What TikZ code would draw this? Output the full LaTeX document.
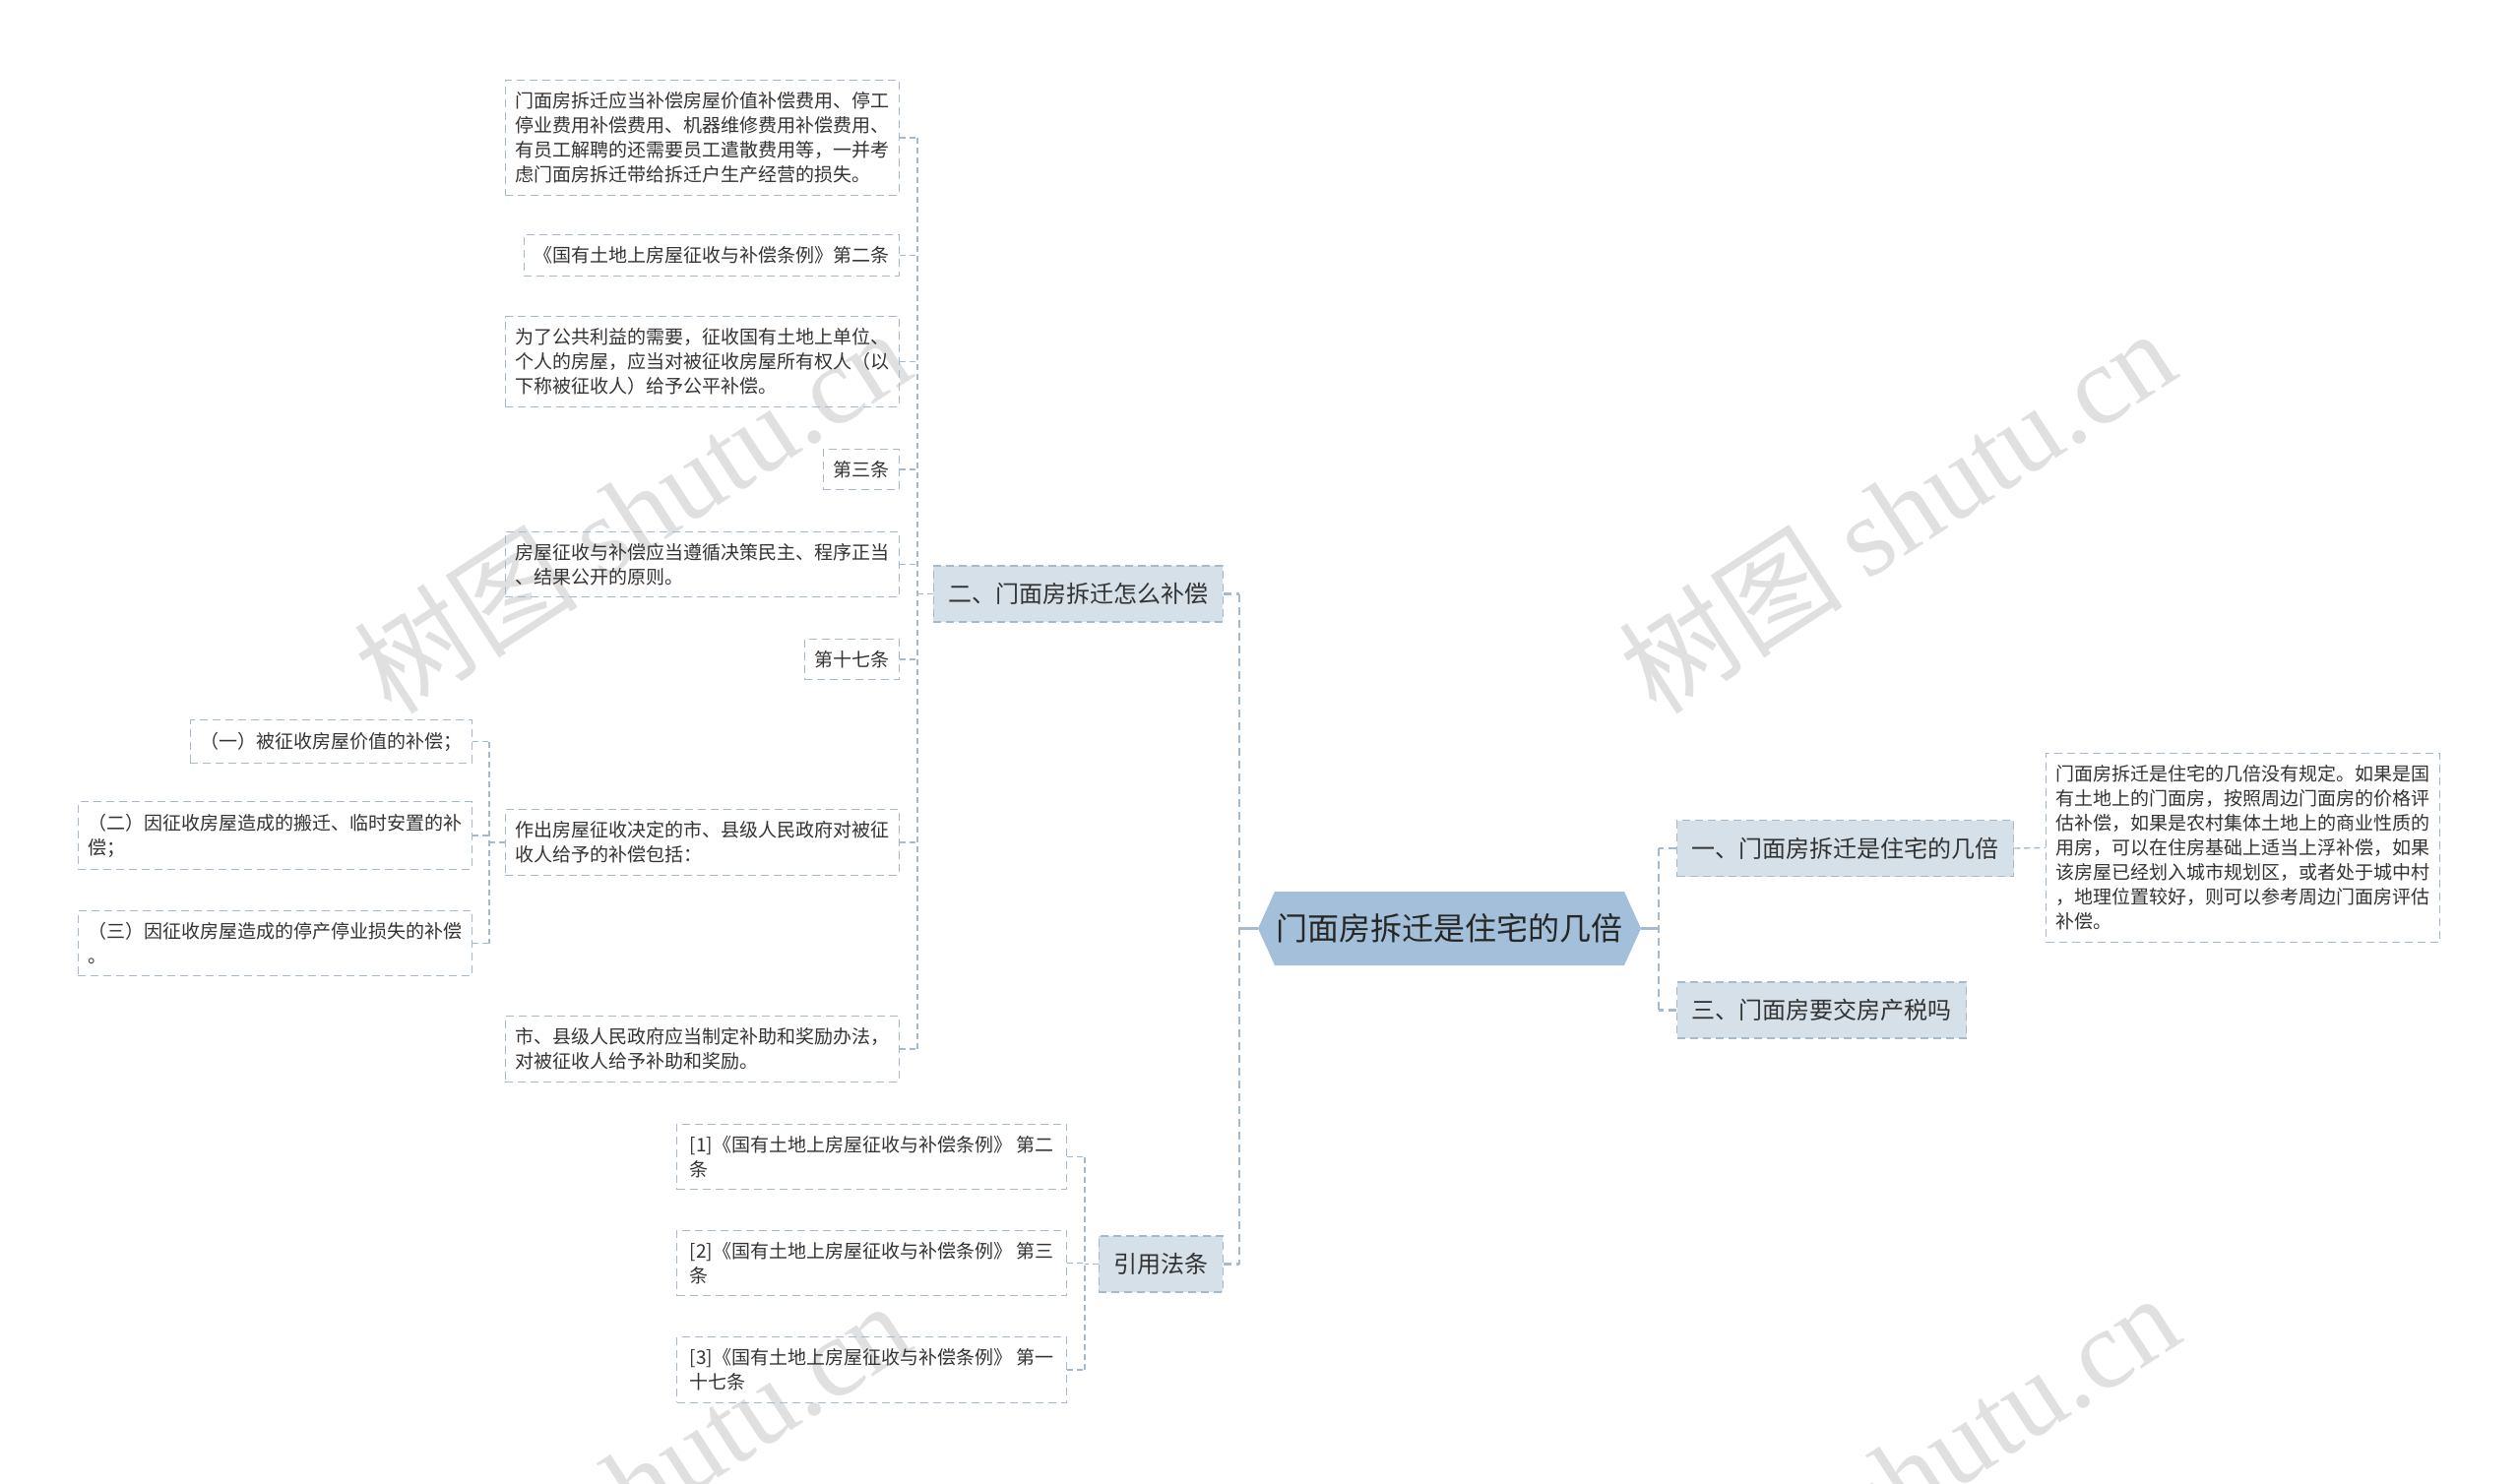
\documentclass[tikz,border=0pt]{standalone}
\usepackage{fontspec}
\setmainfont{Noto Sans CJK SC}
\newfontfamily\wmfont{Liberation Serif}
\usepackage{tikz}
\usetikzlibrary{positioning,calc}

\definecolor{linec}{HTML}{A5BACB}
\definecolor{boxfill}{HTML}{D5E0E9}
\definecolor{rootfill}{HTML}{A3BFD9}
\definecolor{txt}{HTML}{333333}
\definecolor{wm}{HTML}{E0E0E0}

\begin{document}
\begin{tikzpicture}[x=0.5pt, y=-0.5pt,
    leaf/.style={draw=linec, dash pattern=on 4pt off 2.5pt, line width=0.6pt, text=txt, align=left,
        inner xsep=5pt, inner ysep=6pt, font=\fontsize{9.5pt}{12.5pt}\selectfont},
    branch/.style={draw=linec, dash pattern=on 4pt off 2.5pt, line width=0.7pt, fill=boxfill, text=txt,
        minimum height=28.5pt, inner xsep=7.5pt, font=\fontsize{12pt}{14pt}\selectfont},
    link/.style={draw=linec, dash pattern=on 3pt off 2pt, line width=0.7pt},
    trunk/.style={draw=linec, dash pattern=on 4pt off 2.5pt, line width=1.2pt},
    wmark/.style={text=wm, rotate=33, font=\fontsize{57pt}{57pt}\selectfont}]
    \useasboundingbox (0,0) rectangle (2560,1508);

    % watermarks
    \node[wmark] (wm1) at (642, 519) {树图 \wmfont shutu.cn};
    \node[wmark] (wm2) at (1927, 519) {树图 \wmfont shutu.cn};
    \node[wmark] (wm3) at (642, 1507) {树图 \wmfont shutu.cn};
    \node[wmark] (wm4) at (1931, 1499) {树图 \wmfont shutu.cn};

    % root
    \node[minimum width=194.5pt, minimum height=37.5pt, inner sep=0pt, text=black!85,
        font=\fontsize{16pt}{18pt}\selectfont,
        path picture={\fill[rootfill] (path picture bounding box.west)
            -- ([xshift=8.5pt]path picture bounding box.north west)
            -- ([xshift=-8.5pt]path picture bounding box.north east)
            -- (path picture bounding box.east)
            -- ([xshift=-8.5pt]path picture bounding box.south east)
            -- ([xshift=8.5pt]path picture bounding box.south west) -- cycle;}]
        (root) at (1472.5, 943.5) {门面房拆迁是住宅的几倍};

    % main branches
    \node[branch, anchor=east] (b2) at (1243, 603.5) {二、门面房拆迁怎么补偿};
    \node[branch, anchor=east] (cite) at (1243, 1284.5) {引用法条};
    \node[branch, anchor=west] (b1) at (1703, 862) {一、门面房拆迁是住宅的几倍};
    \node[branch, anchor=west] (b3) at (1703, 1026.5) {三、门面房要交房产税吗};

    % right detail
    \node[leaf, anchor=west] (det) at (2078, 861.5) {门面房拆迁是住宅的几倍没有规定。如果是国\\
        有土地上的门面房，按照周边门面房的价格评\\
        估补偿，如果是农村集体土地上的商业性质的\\
        用房，可以在住房基础上适当上浮补偿，如果\\
        该房屋已经划入城市规划区，或者处于城中村\\
        ，地理位置较好，则可以参考周边门面房评估\\
        补偿。};

    % children of b2
    \node[leaf, anchor=east] (c1) at (914, 140) {门面房拆迁应当补偿房屋价值补偿费用、停工\\
        停业费用补偿费用、机器维修费用补偿费用、\\
        有员工解聘的还需要员工遣散费用等，一并考\\
        虑门面房拆迁带给拆迁户生产经营的损失。};
    \node[leaf, anchor=east] (c2) at (914, 259.5) {《国有土地上房屋征收与补偿条例》第二条};
    \node[leaf, anchor=east] (c3) at (914, 367.5) {为了公共利益的需要，征收国有土地上单位、\\
        个人的房屋，应当对被征收房屋所有权人（以\\
        下称被征收人）给予公平补偿。};
    \node[leaf, anchor=east] (c4) at (914, 477) {第三条};
    \node[leaf, anchor=east] (c5) at (914, 573.5) {房屋征收与补偿应当遵循决策民主、程序正当\\
        、结果公开的原则。};
    \node[leaf, anchor=east] (c6) at (914, 670) {第十七条};
    \node[leaf, anchor=east] (c7) at (914, 856) {作出房屋征收决定的市、县级人民政府对被征\\
        收人给予的补偿包括：};
    \node[leaf, anchor=east] (c8) at (914, 1066) {市、县级人民政府应当制定补助和奖励办法，\\
        对被征收人给予补助和奖励。};

    % children of c7
    \node[leaf, anchor=east] (g1) at (480, 753.5) {（一）被征收房屋价值的补偿；};
    \node[leaf, anchor=east] (g2) at (480, 849) {（二）因征收房屋造成的搬迁、临时安置的补\\
        偿；};
    \node[leaf, anchor=east] (g3) at (480, 958.5) {（三）因征收房屋造成的停产停业损失的补偿\\
        。};

    % cited articles
    \node[leaf, anchor=east, inner xsep=6.5pt] (r1) at (1084, 1175.5) {[1]《国有土地上房屋征收与补偿条例》 第二\\条};
    \node[leaf, anchor=east, inner xsep=6.5pt] (r2) at (1084, 1283.5) {[2]《国有土地上房屋征收与补偿条例》 第三\\条};
    \node[leaf, anchor=east, inner xsep=6.5pt] (r3) at (1084, 1392) {[3]《国有土地上房屋征收与补偿条例》 第一\\十七条};

    % trunk positions
    \coordinate (tl) at (1259, 0);
    \coordinate (tr) at (1685, 0);
    \coordinate (t2) at (932, 0);
    \coordinate (tg) at (497, 0);
    \coordinate (tc) at (1102, 0);

    % root connectors
    \draw[linec, line width=1.5pt] (root.west) -- (root.west -| tl);
    \draw[linec, line width=1.5pt] (root.east) -- (root.east -| tr);
    \draw[trunk] (b2.east -| tl) -- (cite.east -| tl);
    \draw[trunk] (b2.east) -- (b2.east -| tl);
    \draw[trunk] (cite.east) -- (cite.east -| tl);
    \draw[trunk] (b1.west -| tr) -- (b3.west -| tr);
    \draw[trunk] (b1.west) -- (b1.west -| tr);
    \draw[trunk] (b3.west) -- (b3.west -| tr);
    \draw[link] (b1.east) -- (det.west);

    % b2 subtree
    \draw[link] (c1.east -| t2) -- (c8.east -| t2);
    \draw[link] (b2.west) -- (b2.west -| t2);
    \foreach \n in {c1,c2,c3,c4,c5,c6,c7,c8}
        \draw[link] (\n.east) -- (\n.east -| t2);

    % c7 subtree
    \draw[link] (g1.east -| tg) -- (g3.east -| tg);
    \draw[link] (c7.west) -- (c7.west -| tg);
    \foreach \n in {g1,g2,g3}
        \draw[link] (\n.east) -- (\n.east -| tg);

    % cite subtree
    \draw[link] (r1.east -| tc) -- (r3.east -| tc);
    \draw[link] (cite.west) -- (cite.west -| tc);
    \foreach \n in {r1,r2,r3}
        \draw[link] (\n.east) -- (\n.east -| tc);
\end{tikzpicture}
\end{document}
